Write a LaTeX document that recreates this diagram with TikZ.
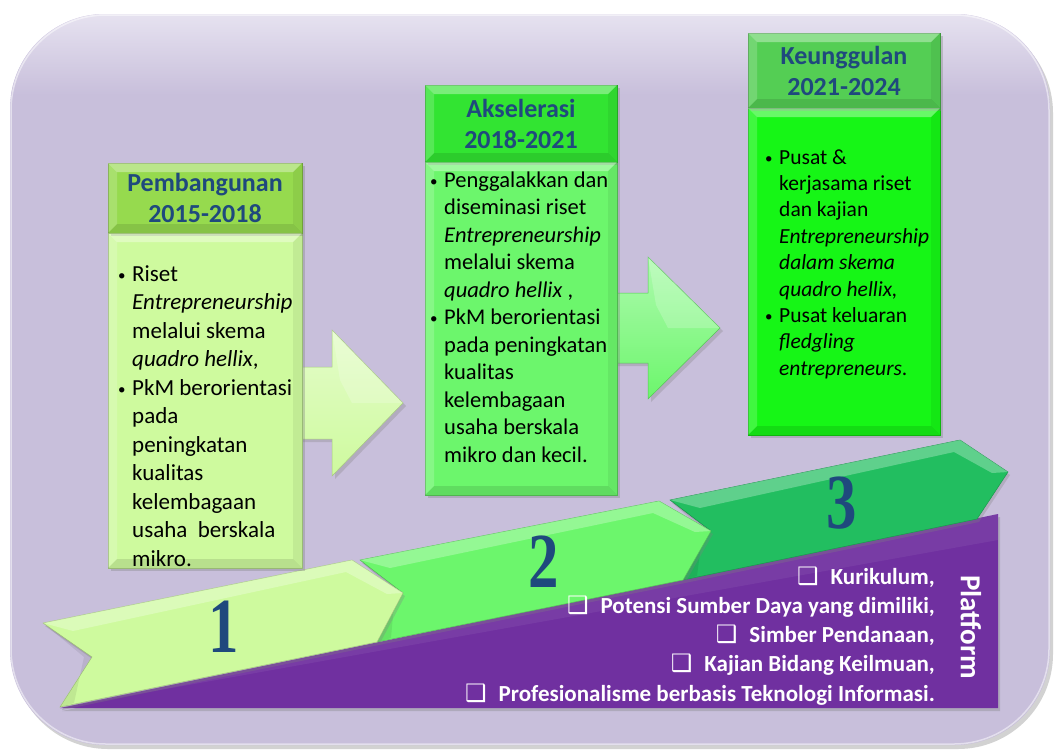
\documentclass[tikz,border=0pt]{standalone}
\usepackage{fontspec}
\setmainfont{Carlito}
\newfontfamily\symfont{DejaVu Sans}
\newfontfamily\numfont{Liberation Serif}
\usetikzlibrary{shadows,calc}
\definecolor{bgc}{RGB}{200,191,219}
\definecolor{bgtop}{RGB}{230,226,240}
\definecolor{hdrblue}{RGB}{31,73,125}
\definecolor{gA}{RGB}{206,250,158}
\definecolor{gAh}{RGB}{150,218,78}
\definecolor{gB}{RGB}{108,246,108}
\definecolor{gBh}{RGB}{50,228,50}
\definecolor{gC}{RGB}{22,246,22}
\definecolor{gCh}{RGB}{84,206,84}
\definecolor{gR3}{RGB}{34,190,96}
\definecolor{purp}{RGB}{112,48,160}
\newcommand\mybevel[2]{%
 \fill[white,opacity=.35] (#1.north west) -- (#1.north east) -- ($(#1.north east)+(-#2,#2)$) -- ($(#1.north west)+(#2,#2)$) -- cycle;
 \fill[white,opacity=.18] (#1.north west) -- ($(#1.north west)+(#2,#2)$) -- ($(#1.south west)+(#2,-#2)$) -- (#1.south west) -- cycle;
 \fill[black,opacity=.10] (#1.south west) -- ($(#1.south west)+(#2,-#2)$) -- ($(#1.south east)+(-#2,-#2)$) -- (#1.south east) -- cycle;
 \fill[black,opacity=.06] (#1.north east) -- ($(#1.north east)+(-#2,#2)$) -- ($(#1.south east)+(-#2,-#2)$) -- (#1.south east) -- cycle;
}
\tikzset{
  panel/.style={draw=#1!75!black, line width=0.6pt, fill=#1, inner sep=0pt, outer sep=0pt,
     drop shadow={opacity=0.35,shadow xshift=3pt,shadow yshift=-3pt}},
  hdrtext/.style={font=\fontsize{26}{31}\selectfont\bfseries, text=hdrblue, align=center},
  bodytxt/.style={inner sep=0pt, anchor=base west, text=black},
  ptxt/.style={inner sep=0pt, text=white, font=\fontsize{23}{28}\selectfont\bfseries},
  numtxt/.style={inner sep=0pt, text=hdrblue, font=\numfont\bfseries\fontsize{78}{78}\selectfont},
  ribbon/.style={fill=#1, draw=#1!80!black, line width=0.5pt,
     drop shadow={opacity=0.3,shadow xshift=2pt,shadow yshift=-3pt}},
  facet/.style={fill=white, opacity=.28},
  blockarrow/.style={draw=#1!80!black, line width=0.5pt, top color=#1!55!white, bottom color=#1,
     drop shadow={opacity=0.3,shadow xshift=3pt,shadow yshift=-3pt}}
}
\newcommand\bul{\makebox[14pt][l]{\raisebox{1pt}{\fontsize{15}{15}\selectfont\textbullet}}}
\newcommand\chk{{\symfont\fontsize{24}{24}\selectfont ❑}\hspace{12pt}}
\begin{document}
\begin{tikzpicture}[x=1pt,y=-1pt]
\useasboundingbox (0,0) rectangle (1059,755);
\fill[white] (0,0) rectangle (1059,755);
% outer panel
\fill[bgc, rounded corners=95pt, drop shadow={opacity=0.35,shadow xshift=3pt,shadow yshift=-4pt}]
   (10,14) rectangle (1050,745);
\begin{scope}
 \clip[rounded corners=95pt] (10,14) rectangle (1050,745);
 \shade[top color=bgtop, bottom color=bgc] (10,14) rectangle (1050,95);
\end{scope}
\draw[white, opacity=.5, line width=1.5pt, rounded corners=95pt] (11,15) rectangle (1049,744);

% purple platform
\fill[purp, drop shadow={opacity=0.35,shadow xshift=2pt,shadow yshift=-3pt}] (60,708) -- (998,514) -- (998,708) -- cycle;
\fill[white, opacity=.06] (60,708) -- (998,514) -- (998,540) -- cycle;

% ribbons
\coordinate (r3a) at (670,500); \coordinate (r3b) at (711,531); \coordinate (r3c) at (683,580);
\coordinate (r3d) at (977,519); \coordinate (r3e) at (1008,472); \coordinate (r3f) at (960,440);
\coordinate (r2a) at (360,560); \coordinate (r2b) at (403,593); \coordinate (r2c) at (377,642);
\coordinate (r2d) at (683,580); \coordinate (r2e) at (711,531); \coordinate (r2f) at (659,501);
\coordinate (r1a) at (43,623); \coordinate (r1b) at (92,657); \coordinate (r1c) at (60,707);
\coordinate (r1d) at (377,642); \coordinate (r1e) at (403,593); \coordinate (r1f) at (352,560);
\foreach \r/\c in {r3/gR3, r2/gB, r1/gA}{
  \path[ribbon=\c] (\r a) -- (\r b) -- (\r c) -- (\r d) -- (\r e) -- (\r f) -- cycle;
  \fill[facet] (\r a) -- (\r f) -- (\r e) -- ($(\r e)+(-16,1)$) -- ($(\r f)+(-6,12)$) -- ($(\r a)+(30,8)$) -- cycle;
  \fill[black, opacity=.07] (\r a) -- (\r b) -- (\r c) -- ($(\r c)+(14,-4)$) -- ($(\r b)+(-8,0)$) -- cycle;
}
% numbers
\node[numtxt] (n1) at (224,627) {\scalebox{0.78}[1]{1}};
\node[numtxt] (n2) at (544,562) {\scalebox{0.78}[1]{2}};
\node[numtxt] (n3) at (842,503) {\scalebox{0.78}[1]{3}};

% platform text
\node[ptxt, anchor=base east] (p1) at (935,584) {\chk Kurikulum,};
\node[ptxt, anchor=base east] (p2) at (935,613) {\chk Potensi Sumber Daya yang dimiliki,};
\node[ptxt, anchor=base east] (p3) at (935,642) {\chk Simber Pendanaan,};
\node[ptxt, anchor=base east] (p4) at (935,671) {\chk Kajian Bidang Keilmuan,};
\node[ptxt, anchor=base east] (p5) at (935,701) {\chk Profesionalisme berbasis Teknologi Informasi.};
\node[ptxt, rotate=-90, font=\fontsize{29}{29}\selectfont\bfseries] (plat) at (971,627) {Platform};

% block arrows
\path[blockarrow=gA] (285,367) -- (332,367) -- (332,330) -- (403,403) -- (332,476) -- (332,439) -- (285,439) -- cycle;
\fill[white,opacity=.2] (332,330) -- (403,403) -- (352,403) -- (340,380) -- cycle;
\path[blockarrow=gB] (600,293) -- (648,293) -- (648,257) -- (720,328) -- (648,399) -- (648,363) -- (600,363) -- cycle;
\fill[white,opacity=.2] (648,257) -- (720,328) -- (668,328) -- (656,305) -- cycle;

% box 1
\node[panel=gA, minimum width=194pt, minimum height=335pt] (b1) at (205,400.5) {};
\node[panel=gAh, minimum width=194pt, minimum height=70pt] (h1) at (205,198) {};
\mybevel{b1}{9}
\mybevel{h1}{9}
\node[hdrtext] (ht1) at (h1) {Pembangunan\\2015-2018};
\node[bodytxt, font=\fontsize{23}{28.5}\selectfont] (t1) at (118,281) {%
\begin{tabular}[t]{@{}l@{}l@{}}
\bul & Riset\\
 & \textit{Entrepreneurship}\\
 & melalui skema\\
 & \textit{quadro hellix},\\
\bul & PkM berorientasi\\
 & pada\\
 & peningkatan\\
 & kualitas\\
 & kelembagaan\\
 & usaha~ berskala\\
 & mikro.
\end{tabular}};

% box 2
\node[panel=gB, minimum width=192pt, minimum height=333pt] (b2) at (521,328.5) {};
\node[panel=gBh, minimum width=192pt, minimum height=77pt] (h2) at (521,123.5) {};
\mybevel{b2}{9}
\mybevel{h2}{9}
\node[hdrtext] (ht2) at (h2) {Akselerasi\\2018-2021};
\node[bodytxt, font=\fontsize{22.5}{27.5}\selectfont] (t2) at (430,187) {%
\begin{tabular}[t]{@{}l@{}l@{}}
\bul & Penggalakkan dan\\
 & diseminasi riset\\
 & \textit{Entrepreneurship}\\
 & melalui skema\\
 & \textit{quadro hellix} ,\\
\bul & PkM berorientasi\\
 & pada peningkatan\\
 & kualitas\\
 & kelembagaan\\
 & usaha berskala\\
 & mikro dan kecil.
\end{tabular}};

% box 3
\node[panel=gC, minimum width=192pt, minimum height=327pt] (b3) at (844,271.5) {};
\node[panel=gCh, minimum width=192pt, minimum height=75pt] (h3) at (844,70.5) {};
\mybevel{b3}{9}
\mybevel{h3}{9}
\node[hdrtext] (ht3) at (h3) {Keunggulan\\2021-2024};
\node[bodytxt, font=\fontsize{21.5}{26.4}\selectfont] (t3) at (765,164) {%
\begin{tabular}[t]{@{}l@{}l@{}}
\bul & Pusat \&\\
 & kerjasama riset\\
 & dan kajian\\
 & \textit{Entrepreneurship}\\
 & \textit{dalam skema}\\
 & \textit{quadro hellix,}\\
\bul & Pusat keluaran\\
 & \textit{fledgling}\\
 & \textit{entrepreneurs}.
\end{tabular}};
\end{tikzpicture}
\end{document}
